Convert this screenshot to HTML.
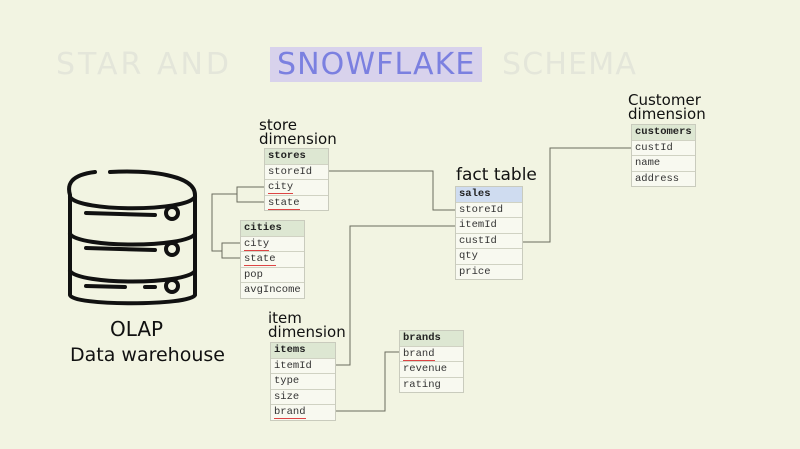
<!DOCTYPE html>
<html><head><style>
body{margin:0;width:800px;height:449px;background:#f2f4e2;position:relative;overflow:hidden;font-family:"Liberation Mono",monospace;}
.t{position:absolute;border:1px solid #c9cbbd;}
.t div{height:14.5px;line-height:14.5px;font-size:10.5px;color:#333;padding-left:3px;border-bottom:1px solid #d0d2c3;background:#f8f9f0;}
.t div:last-child{border-bottom:none}
.t .h{background:#dde7d2;font-weight:bold;color:#222}
.t .hb{background:#cfdcf0;font-weight:bold;color:#222}
.u{border-bottom:1.5px solid #d44;line-height:11px;display:inline-block}
.lbl{position:absolute;font-family:"DejaVu Sans",sans-serif;font-size:15px;line-height:14px;color:#111;}
.title{position:absolute;top:47px;font-family:"DejaVu Sans",sans-serif;font-size:30px;color:#e4e6da;white-space:nowrap}
</style></head><body>
<div class="title" style="left:56px;letter-spacing:3px">STAR AND</div>
<div style="position:absolute;left:270px;top:47px;width:212px;height:35px;background:#d8d2ec"></div>
<div class="title" style="left:277px;color:#7b80e0;letter-spacing:1.1px">SNOWFLAKE</div>
<div class="title" style="left:502px;letter-spacing:1.2px">SCHEMA</div>

<svg style="position:absolute;left:0;top:0" width="800" height="449">
<g fill="none" stroke="#6b6b5e" stroke-width="1">
<path d="M328 171H433V210H455"/>
<path d="M455 226H350V365H334"/>
<path d="M521 242H550V148H631"/>
<path d="M264 187H237V202H264M237 194H212V251H222M240 243H222V258H240"/>
<path d="M334 411H385V352H399"/>
</g>
<g fill="none" stroke="#111" stroke-width="4" stroke-linecap="round">
<path d="M95 172 C70 175 67 185 70 195 L70 295 C72 306 190 306 195 295 L195 195 C195 175 150 170 110 172"/>
<path d="M70 197 C80 212 185 212 195 197"/>
<path d="M70 234 C80 248 185 248 195 234"/>
<path d="M70 271 C80 285 185 285 195 271"/>
<path d="M86 213 L155 215 M86 248 L155 250 M86 286 L125 287 M145 287 L155 287"/>
<circle cx="172" cy="213" r="6"/><circle cx="172" cy="249" r="6"/><circle cx="172" cy="286" r="6"/>
</g>
</svg>
<div class="lbl" style="left:110px;top:318px;font-size:20px;line-height:22px">OLAP</div>
<div class="lbl" style="left:70px;top:344px;font-size:19px;line-height:22px">Data warehouse</div>

<div class="lbl" style="left:259px;top:118px">store<br>dimension</div>
<div class="t" style="left:264px;top:148px;width:63px"><div class="h">stores</div><div>storeId</div><div><span class="u">city</span></div><div><span class="u">state</span></div></div>
<div class="t" style="left:240px;top:220px;width:63px"><div class="h">cities</div><div><span class="u">city</span></div><div><span class="u">state</span></div><div>pop</div><div>avgIncome</div></div>
<div class="lbl" style="left:456px;top:168px;font-size:17px">fact table</div>
<div class="t" style="left:455px;top:186px;width:66px"><div class="hb">sales</div><div>storeId</div><div>itemId</div><div>custId</div><div>qty</div><div>price</div></div>
<div class="lbl" style="left:628px;top:93px">Customer<br>dimension</div>
<div class="t" style="left:631px;top:124px;width:63px"><div class="h">customers</div><div>custId</div><div>name</div><div>address</div></div>
<div class="lbl" style="left:268px;top:311px">item<br>dimension</div>
<div class="t" style="left:270px;top:342px;width:64px"><div class="h">items</div><div>itemId</div><div>type</div><div>size</div><div><span class="u">brand</span></div></div>
<div class="t" style="left:399px;top:330px;width:63px"><div class="h">brands</div><div><span class="u">brand</span></div><div>revenue</div><div>rating</div></div>
</body></html>
